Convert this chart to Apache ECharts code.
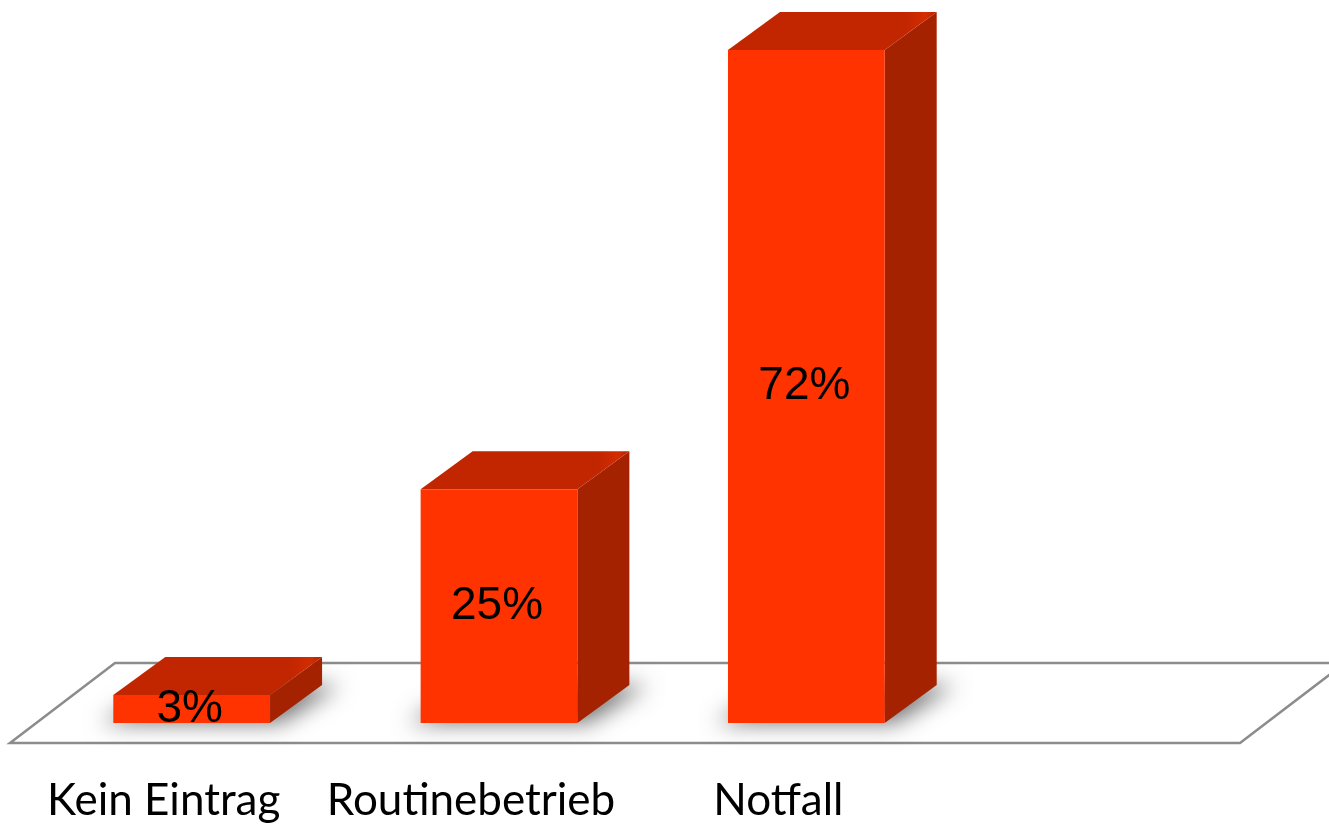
<!DOCTYPE html>
<html>
<head>
<meta charset="utf-8">
<script src="https://cdn.jsdelivr.net/npm/echarts@6/dist/echarts.min.js"></script>
<style>
html,body{margin:0;padding:0;background:#fff;}
#chart{width:1329px;height:827px;}
</style>
</head>
<body>
<div id="chart"></div>
<script>
const categories = ['Kein Eintrag', 'Routinebetrieb', 'Notfall'];
const values = [3, 25, 72];
const valueLabels = ['3%', '25%', '72%'];

const DX = 52, DY = -38;
const FRONT = '#FF3300', TOP = '#C22600', SIDE = '#A42200';
const SHIFT = 3000;

const chart = echarts.init(document.getElementById('chart'), null, {renderer: 'canvas', devicePixelRatio: 1});

function floorItem(params, api) {
  const cs = params.coordSys;
  const yF = cs.y + cs.height + 20;
  const xL = cs.x - 28;
  const xR = cs.x + cs.width + 280;
  const fdx = 105, fdy = -80;
  return {
    type: 'polygon',
    shape: {points: [[xL, yF], [xL + fdx, yF + fdy], [xR + fdx, yF + fdy], [xR, yF]]},
    style: {fill: '#ffffff', stroke: '#8c8c8c', lineWidth: 2.5},
    silent: true
  };
}

function barItem(params, api) {
  const idx = api.value(0);
  const val = api.value(1);
  const top = api.coord([idx, val]);
  const base = api.coord([idx, 0]);
  const band = api.size([1, 0])[0];
  const w = band * 0.51;
  const x0 = top[0] - w / 2, x1 = top[0] + w / 2;
  const yt = top[1], yb = base[1];
  return {
    type: 'group',
    children: [
      {
        type: 'polygon',
        shape: {points: [[x0 - 12 - SHIFT, yb], [x0 + DX - SHIFT, yb + DY], [x1 + DX + 18 - SHIFT, yb + DY], [x1 + 10 - SHIFT, yb]]},
        style: {fill: '#000', shadowBlur: 22, shadowColor: 'rgba(0,0,0,0.55)', shadowOffsetX: SHIFT, shadowOffsetY: 0},
        silent: true
      },
      {
        type: 'polygon',
        shape: {points: [[x1, yt], [x1 + DX, yt + DY], [x1 + DX, yb + DY], [x1, yb]]},
        style: {fill: SIDE}
      },
      {
        type: 'polygon',
        shape: {points: [[x0, yt], [x0 + DX, yt + DY], [x1 + DX, yt + DY], [x1, yt]]},
        style: {
          fill: {
            type: 'linear', x: 0, y: 0, x2: 1, y2: 0,
            colorStops: [{offset: 0, color: TOP}, {offset: 0.85, color: TOP}, {offset: 0.95, color: '#D42C00'}, {offset: 1, color: '#B02400'}]
          }
        }
      },
      {
        type: 'rect',
        shape: {x: x0, y: yt, width: w, height: yb - yt},
        style: {fill: FRONT}
      },
      {
        type: 'text',
        style: {
          text: valueLabels[idx],
          x: (x0 + x1) / 2 - 2,
          y: (yt + yb) / 2,
          align: 'center',
          verticalAlign: 'middle',
          fontSize: 46,
          fontFamily: 'Liberation Sans, Arial, sans-serif',
          fill: '#000000'
        }
      }
    ]
  };
}

const option = {
  backgroundColor: '#ffffff',
  animation: false,
  grid: {left: 38, right: 369, top: 22, bottom: 104},
  xAxis: {
    type: 'category',
    data: categories,
    axisLine: {show: false},
    axisTick: {show: false},
    axisLabel: {
      show: true,
      interval: 0,
      hideOverlap: false,
      margin: 56,
      fontSize: 44,
      fontFamily: 'Lato, sans-serif',
      color: '#000000',
      padding: [0, 56, 0, 0]
    }
  },
  yAxis: {
    type: 'value',
    min: 0,
    max: 75,
    show: false,
    splitLine: {show: false}
  },
  series: [
    {
      type: 'custom',
      name: 'floor',
      renderItem: floorItem,
      data: [[0, 0]],
      silent: true,
      clip: false,
      z: 1
    },
    {
      type: 'custom',
      name: 'bars',
      renderItem: barItem,
      data: values.map((v, i) => [i, v]),
      clip: false,
      z: 2
    }
  ]
};
chart.setOption(option);
</script>
</body>
</html>
